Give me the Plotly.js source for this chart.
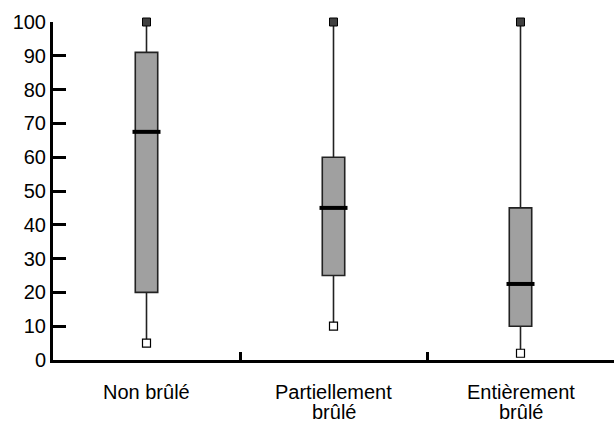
<!DOCTYPE html>
<html><head><meta charset="utf-8">
<script src="https://cdn.plot.ly/plotly-3.0.1.min.js"></script>
<style>body{margin:0;padding:0;background:#fff}#chart{width:614px;height:424px}</style>
</head><body><div id="chart"></div>
<script>
const categories = ["Non brûlé", "Partiellement\nbrûlé", "Entièrement\nbrûlé"];
const positions = [0, 1, 2];
const minimum = [5, 10, 2];
const q1 = [20, 25, 10];
const median = [67.5, 45, 22.5];
const q3 = [91, 60, 45];
const maximum = [100, 100, 100];
const yTicks = [0, 10, 20, 30, 40, 50, 60, 70, 80, 90, 100];
const boundaries = [0.5, 1.5];

const FONT = "Liberation Sans, Arial, sans-serif";

const traces = [
  {
    type: "box",
    x: positions,
    q1: q1, median: median, q3: q3,
    lowerfence: minimum, upperfence: maximum,
    width: 0.12,
    whiskerwidth: 0,
    boxpoints: false,
    fillcolor: "#a0a0a0",
    line: { color: "#222222", width: 1.6 },
    hoverinfo: "skip",
    showlegend: false
  },
  {
    type: "scatter", mode: "markers",
    x: positions, y: median,
    marker: { symbol: "line-ew", size: 20, color: "#000", line: { color: "#000", width: 4 } },
    hoverinfo: "skip", showlegend: false
  },
  {
    type: "scatter", mode: "markers",
    x: positions, y: maximum,
    marker: { symbol: "square", size: 8, color: "#404040", line: { color: "#000", width: 1 } },
    cliponaxis: false,
    hoverinfo: "skip", showlegend: false
  },
  {
    type: "scatter", mode: "markers",
    x: positions, y: minimum,
    marker: { symbol: "square", size: 8, color: "#ffffff", line: { color: "#000", width: 1.2 } },
    cliponaxis: false,
    hoverinfo: "skip", showlegend: false
  }
];

const annotations = [];
categories.forEach((cat, i) => {
  cat.split("\n").forEach((line, j) => {
    annotations.push({
      text: line, x: positions[i], y: 0, xref: "x", yref: "y",
      xanchor: "center", yanchor: "top", showarrow: false,
      borderpad: 0,
      yshift: -20 - 20 * j,
      font: { family: FONT, size: 20, color: "#000" }
    });
  });
});

const layout = {
  width: 614, height: 424,
  margin: { l: 53, r: 0, t: 22, b: 64 },
  paper_bgcolor: "#fff", plot_bgcolor: "#fff",
  font: { family: FONT, size: 20, color: "#000" },
  showlegend: false,
  annotations: annotations,
  xaxis: {
    range: [-0.5, 2.5],
    tickvals: positions, showticklabels: false,
    ticks: "", showgrid: false, zeroline: false,
    showline: true, linecolor: "#000", linewidth: 3,
    minor: { tickvals: boundaries, ticks: "inside", ticklen: 8, tickwidth: 3, tickcolor: "#000", showgrid: false }
  },
  yaxis: {
    range: [0, 100],
    tickvals: yTicks,
    ticks: "inside", ticklen: 13, tickwidth: 3, tickcolor: "#000",
    showgrid: false, zeroline: false,
    showline: true, linecolor: "#000", linewidth: 3,
    tickfont: { family: FONT, size: 20, color: "#000" }
  }
};

Plotly.newPlot("chart", traces, layout, { displayModeBar: false, staticPlot: true });
</script>
</body></html>
